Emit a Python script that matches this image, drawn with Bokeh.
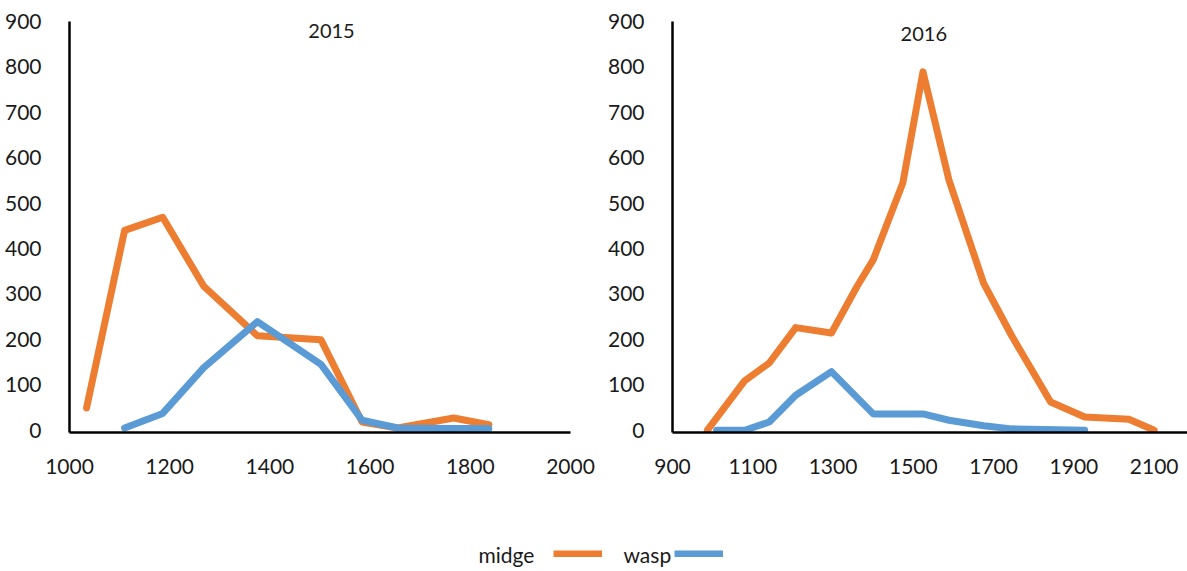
from bokeh.plotting import figure
from bokeh.layouts import row, column
from bokeh.models import Range1d, FixedTicker, Label, Legend, LegendItem
from bokeh.core.properties import value
from bokeh.embed import file_html
from bokeh.resources import INLINE

# ---- data ----
midge_2015_x = [1034, 1110, 1186, 1268, 1375, 1502, 1584, 1655, 1767, 1837]
midge_2015_y = [49, 440, 469, 317, 208, 199, 18, 5, 27, 12]
wasp_2015_x = [1110, 1186, 1268, 1375, 1502, 1584, 1655, 1767, 1837]
wasp_2015_y = [5, 37, 138, 239, 145, 22, 5, 4, 4]

midge_2016_x = [987, 1080, 1141, 1207, 1296, 1360, 1400, 1474, 1524, 1589, 1675, 1745, 1842, 1927, 2037, 2100]
midge_2016_y = [0, 109, 148, 226, 214, 317, 375, 545, 789, 550, 324, 208, 62, 29, 24, 0]
wasp_2016_x = [1010, 1080, 1141, 1207, 1296, 1400, 1524, 1589, 1675, 1745, 1927]
wasp_2016_y = [0, 0, 18, 77, 129, 36, 36, 22, 10, 3, 0]

x_ticks_2015 = [1000, 1200, 1400, 1600, 1800, 2000]
x_ticks_2016 = [900, 1100, 1300, 1500, 1700, 1900, 2100]
y_ticks = [0, 100, 200, 300, 400, 500, 600, 700, 800, 900]
series_names = ["midge", "wasp"]
titles = ["2015", "2016"]

ORANGE = "#ED7D31"
BLUE = "#5B9BD5"
FONT = "Lato"
TEXT = "#1a1a1a"


def make_panel(x_range, width, bl, br, xticks):
    p = figure(width=width, height=500, x_range=x_range, y_range=Range1d(-5, 900),
               toolbar_location=None, output_backend="svg",
               min_border_left=bl, min_border_right=br,
               min_border_top=21, min_border_bottom=68)
    p.outline_line_color = None
    p.grid.visible = False
    for ax in (p.xaxis[0], p.yaxis[0]):
        ax.major_tick_line_color = None
        ax.minor_tick_line_color = None
        ax.axis_line_color = "black"
        ax.axis_line_width = 2.5
        ax.major_label_text_font = FONT
        ax.major_label_text_font_size = "21px"
        ax.major_label_text_color = TEXT
    p.xaxis.ticker = FixedTicker(ticks=xticks)
    p.yaxis.ticker = FixedTicker(ticks=y_ticks)
    p.xaxis.major_label_standoff = 20
    p.yaxis.major_label_standoff = 22
    return p


p1 = make_panel(Range1d(1000, 2000), 600, 69, 30, x_ticks_2015)
p1.line(midge_2015_x, midge_2015_y, line_color=ORANGE, line_width=7,
        line_join="round", line_cap="round")
p1.line(wasp_2015_x, wasp_2015_y, line_color=BLUE, line_width=7,
        line_join="round", line_cap="round")
p1.add_layout(Label(x=1523, y=879, text=titles[0], text_align="center",
                    text_baseline="middle", text_font=FONT,
                    text_font_size="20px", text_color=TEXT))

p2 = make_panel(Range1d(900, 2183), 587, 72, 0, x_ticks_2016)
p2.line(midge_2016_x, midge_2016_y, line_color=ORANGE, line_width=7,
        line_join="round", line_cap="round")
p2.line(wasp_2016_x, wasp_2016_y, line_color=BLUE, line_width=7,
        line_join="round", line_cap="round")
p2.add_layout(Label(x=1526, y=873, text=titles[1], text_align="center",
                    text_baseline="middle", text_font=FONT,
                    text_font_size="20px", text_color=TEXT))

# ---- legend strip: "midge ▬  wasp▬" ----
p3 = figure(width=1187, height=71, x_range=Range1d(0, 1), y_range=Range1d(0, 1),
            toolbar_location=None, output_backend="svg", min_border=0,
            x_axis_location=None, y_axis_location=None)
p3.outline_line_color = None
p3.grid.visible = False

# legend proxies: same series, but lying outside this strip's visible range
r_m = p3.line(midge_2015_x, midge_2015_y, line_color=ORANGE, line_width=7, line_cap="butt")
r_w = p3.line(wasp_2015_x, wasp_2015_y, line_color=BLUE, line_width=7, line_cap="butt")

for txt, lx in zip(series_names, [478, 623]):
    p3.add_layout(Label(x=lx, y=17, x_units="screen", y_units="screen", text=txt,
                        text_font=FONT, text_font_size="21px", text_color=TEXT,
                        text_baseline="middle"))

for r, gx in zip([r_m, r_w], [553, 674]):
    leg = Legend(items=[LegendItem(label=value(" "), renderers=[r])],
                 location=(gx, 14), padding=0, margin=0, spacing=0,
                 glyph_width=49, glyph_height=7, label_height=7, label_width=0,
                 label_standoff=0, label_text_font_size="1px",
                 border_line_color=None, background_fill_alpha=0)
    p3.add_layout(leg, "center")

layout = column(row(p1, p2), p3)
open("out.html", "w").write(file_html(layout, INLINE))
